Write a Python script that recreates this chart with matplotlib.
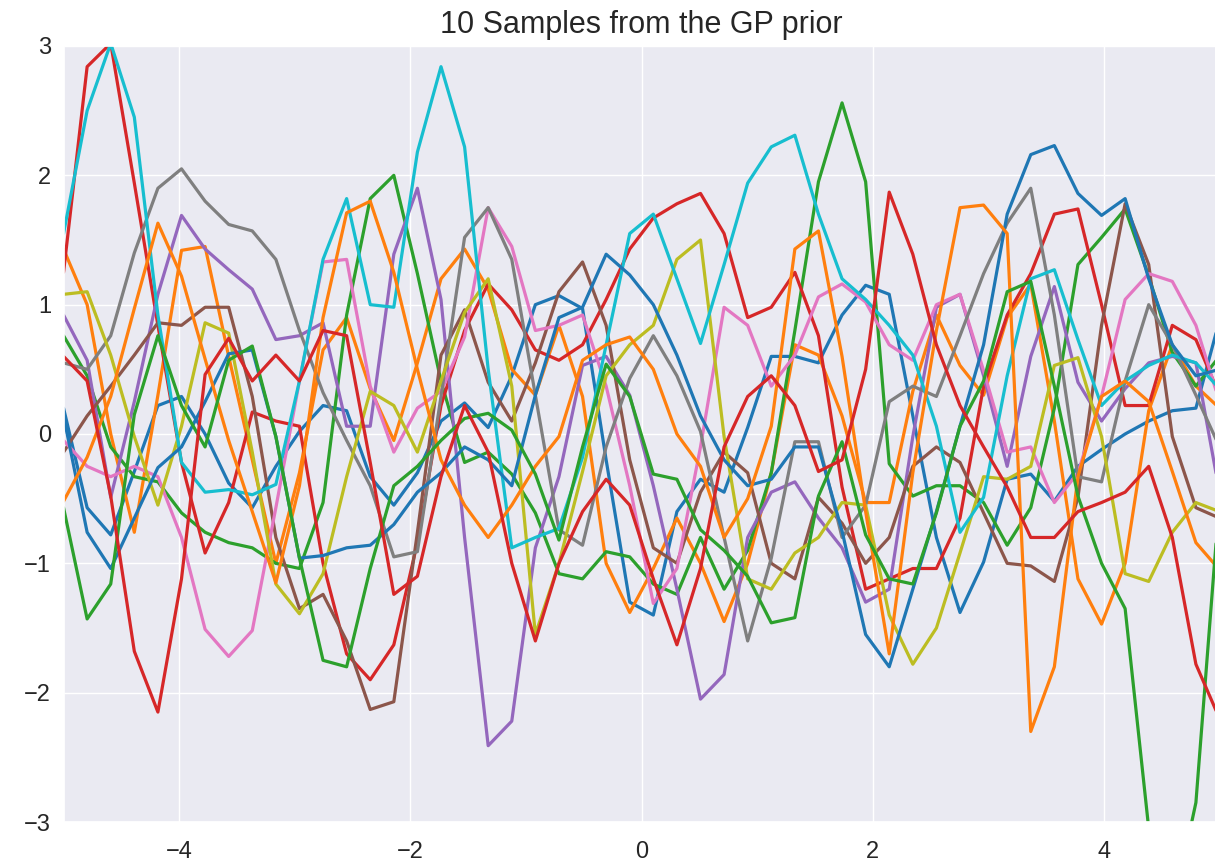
import numpy as np
import matplotlib
matplotlib.use("Agg")
import matplotlib.pyplot as plt
import seaborn as sns

# test points of the prior, 50 evenly spaced inputs
x_min, x_max, n_points = -5, 5, 50

# samples, one list per line (tab10 colour order)
blue_1 = [0.2, -0.57, -0.78, -0.29, 0.22, 0.29, 0.0, -0.38, -0.57, -0.25,
          0.02, 0.22, 0.18, -0.33, -0.55, -0.3, 0.1, 0.24, 0.05, 0.45,
          1.0, 1.07, 0.97, -0.2, -1.3, -1.4, -0.6, -0.35, -0.45, 0.05,
          0.6, 0.6, 0.55, 0.92, 1.15, 1.08, 0.14, -0.8, -1.38, -0.99,
          -0.35, -0.31, -0.52, -0.25, -0.12, 0.0, 0.1, 0.18, 0.2, 0.88]
orange_1 = [1.43, 1.0, 0.0, -0.76, 0.3, 1.42, 1.45, 0.6, -0.2, -1.0,
            -0.3, 0.65, 0.9, 0.35, -0.05, 0.55, 1.2, 1.43, 1.12, 0.5,
            0.3, 0.84, 0.29, -1.0, -1.38, -1.04, -0.65, -1.0, -1.45, -1.0,
            -0.3, 0.69, 0.61, 0.14, -0.53, -0.53, 0.33, 0.92, 0.53, 0.3,
            0.9, 1.16, 0.1, -1.12, -1.47, -1.0, 0.18, 0.69, 0.37, 0.2]
green_1 = [0.76, 0.45, -0.1, -0.33, -0.37, -0.61, -0.76, -0.84, -0.88, -1.0,
           -1.04, -0.53, 0.92, 1.82, 2.0, 1.24, 0.41, -0.22, -0.14, -0.31,
           -0.61, -1.08, -1.12, -0.91, -0.95, -1.16, -1.24, -0.8, -1.2, -0.9,
           -0.3, 0.8, 1.95, 2.56, 1.95, -0.23, -0.48, -0.4, -0.4, -0.53,
           -0.86, -0.57, 0.2, 1.31, 1.52, 1.74, 1.22, 0.63, 0.37, 0.6]
red_1 = [1.25, 2.84, 3.02, 1.94, 0.84, -0.22, -0.92, -0.53, 0.17, 0.1,
         0.06, -1.0, -1.7, -1.9, -1.63, -0.84, 0.22, 0.8, 1.16, 0.96,
         0.65, 0.57, 0.69, 1.04, 1.43, 1.67, 1.78, 1.86, 1.55, 0.9,
         0.98, 1.25, 0.76, -0.41, -1.2, -1.12, -1.04, -1.04, -0.65, 0.37,
         0.92, 1.24, 1.7, 1.74, 1.0, 0.22, 0.22, 0.84, 0.73, 0.3]
purple = [0.92, 0.57, -0.49, 0.25, 1.08, 1.69, 1.43, 1.27, 1.12, 0.73,
          0.76, 0.86, 0.06, 0.06, 1.39, 1.9, 1.04, -0.8, -2.41, -2.22,
          -0.88, -0.33, 0.53, 0.6, 0.3, -0.4, -1.2, -2.05, -1.86, -0.8,
          -0.45, -0.37, -0.65, -0.88, -1.3, -1.2, -0.02, 0.98, 1.08, 0.45,
          -0.25, 0.6, 1.14, 0.4, 0.1, 0.35, 0.55, 0.6, 0.55, -0.45]
brown = [-0.14, 0.14, 0.37, 0.61, 0.86, 0.84, 0.98, 0.98, 0.29, -0.8,
         -1.35, -1.24, -1.6, -2.13, -2.07, -0.76, 0.61, 0.96, 0.4, 0.1,
         0.55, 1.1, 1.33, 0.84, -0.2, -0.88, -1.0, -0.45, -0.14, -0.3,
         -1.0, -1.12, -0.49, -0.69, -1.0, -0.8, -0.25, -0.1, -0.22, -0.61,
         -1.0, -1.02, -1.14, -0.49, 0.84, 1.78, 1.31, -0.02, -0.57, -0.65]
pink = [-0.05, -0.25, -0.33, -0.25, -0.33, -0.8, -1.51, -1.72, -1.52, -0.57,
        0.41, 1.33, 1.35, 0.37, -0.14, 0.2, 0.33, 0.75, 1.75, 1.45,
        0.8, 0.84, 0.92, 0.37, -0.4, -1.31, -1.04, -0.1, 0.98, 0.84,
        0.37, 0.61, 1.06, 1.16, 1.02, 0.69, 0.57, 1.0, 1.08, 0.49,
        -0.14, -0.1, -0.53, -0.3, 0.29, 1.04, 1.24, 1.18, 0.84, 0.25]
grey = [0.55, 0.5, 0.76, 1.4, 1.9, 2.05, 1.8, 1.62, 1.57, 1.35,
        0.8, 0.32, -0.05, -0.4, -0.95, -0.91, 0.29, 1.52, 1.75, 1.35,
        0.3, -0.74, -0.86, -0.1, 0.43, 0.76, 0.45, 0.02, -0.8, -1.6,
        -0.96, -0.06, -0.06, -0.8, -0.55, 0.25, 0.37, 0.29, 0.76, 1.24,
        1.63, 1.9, 0.92, -0.33, -0.37, 0.41, 1.0, 0.69, 0.3, -0.1]
olive = [1.08, 1.1, 0.61, -0.02, -0.55, 0.06, 0.86, 0.78, -0.14, -1.16,
         -1.39, -1.08, -0.33, 0.33, 0.22, -0.14, 0.41, 0.94, 1.2, 0.37,
         -1.55, -1.0, -0.29, 0.45, 0.69, 0.84, 1.35, 1.5, -0.02, -1.12,
         -1.2, -0.92, -0.8, -0.53, -0.55, -1.4, -1.78, -1.5, -0.92, -0.33,
         -0.35, -0.25, 0.53, 0.59, -0.02, -1.08, -1.14, -0.76, -0.53, -0.6]
cyan = [1.55, 2.5, 3.02, 2.45, 0.92, -0.22, -0.45, -0.43, -0.47, -0.39,
        0.41, 1.35, 1.82, 1.0, 0.98, 2.18, 2.84, 2.22, 0.5, -0.88,
        -0.8, -0.73, -0.18, 0.69, 1.55, 1.7, 1.2, 0.7, 1.31, 1.94,
        2.22, 2.31, 1.7, 1.2, 1.04, 0.84, 0.61, 0.06, -0.76, -0.49,
        0.45, 1.2, 1.27, 0.73, 0.22, 0.41, 0.53, 0.61, 0.55, 0.35]
blue_2 = [0.14, -0.76, -1.04, -0.65, -0.26, -0.1, 0.25, 0.62, 0.65, -0.02,
          -0.96, -0.94, -0.88, -0.86, -0.7, -0.45, -0.3, -0.1, -0.2, -0.4,
          0.3, 0.9, 0.98, 1.39, 1.23, 1.0, 0.61, 0.14, -0.2, -0.4,
          -0.35, -0.1, -0.1, -0.75, -1.55, -1.8, -1.2, -0.6, 0.06, 0.69,
          1.7, 2.16, 2.23, 1.86, 1.69, 1.82, 1.2, 0.69, 0.45, 0.5]
orange_2 = [-0.52, -0.18, 0.29, 0.97, 1.63, 1.22, 0.58, -0.05, -0.6, -1.15,
            -0.4, 0.9, 1.71, 1.8, 1.25, 0.5, -0.2, -0.55, -0.8, -0.55,
            -0.25, -0.02, 0.57, 0.69, 0.75, 0.5, 0.0, -0.25, -0.8, -0.5,
            0.06, 1.43, 1.57, 0.6, -0.6, -1.7, -0.3, 0.8, 1.75, 1.77,
            1.55, -2.3, -1.8, -0.33, 0.29, 0.41, 0.25, -0.29, -0.84, -1.05]
green_2 = [-0.57, -1.43, -1.16, 0.15, 0.76, 0.22, -0.1, 0.57, 0.68, -0.02,
           -0.96, -1.75, -1.8, -1.04, -0.4, -0.25, -0.05, 0.12, 0.16, 0.03,
           -0.31, -0.82, -0.1, 0.54, 0.29, -0.31, -0.35, -0.74, -0.9, -1.1,
           -1.46, -1.42, -0.48, -0.06, -0.78, -1.12, -1.16, -0.61, 0.06, 0.41,
           1.1, 1.18, 0.37, -0.48, -1.0, -1.35, -3.05, -3.7, -2.85, -0.5]
red_2 = [0.6, 0.41, -0.48, -1.68, -2.15, -1.12, 0.46, 0.74, 0.41, 0.61,
         0.41, 0.8, 0.76, -0.22, -1.24, -1.1, -0.33, 0.22, -0.14, -1.0,
         -1.6, -1.0, -0.6, -0.35, -0.55, -1.12, -1.63, -1.04, -0.1, 0.29,
         0.45, 0.22, -0.29, -0.2, 0.5, 1.87, 1.39, 0.69, 0.22, -0.1,
         -0.41, -0.8, -0.8, -0.6, -0.53, -0.45, -0.25, -0.8, -1.78, -2.2]

samples = [blue_1, orange_1, green_1, red_1, purple, brown, pink, grey,
           olive, cyan, blue_2, orange_2, green_2, red_2]

sns.set_theme(style="darkgrid")
plt.rcParams['font.family'] = ['Liberation Sans', 'DejaVu Sans']
# matplotlib's default tab10 cycle rather than seaborn's "deep" palette
plt.rcParams['axes.prop_cycle'] = plt.cycler(color=plt.get_cmap('tab10').colors)

x_test = np.linspace(x_min, x_max, n_points)
f_prior = np.array(samples).T

fig = plt.figure(figsize=(12.15, 8.66), dpi=100)
ax = fig.add_axes([0.0523, 0.0508, 0.9514, 0.8961])
ax.plot(x_test, f_prior, linewidth=2.3)
ax.set_xlim(-5, 5)
ax.set_ylim(-3, 3)
ax.set_xticks([-4, -2, 0, 2, 4])
ax.set_yticks([-3, -2, -1, 0, 1, 2, 3])
ax.tick_params(axis='x', labelsize=17, pad=8)
ax.tick_params(axis='y', labelsize=17, pad=3)
ax.set_title("10 Samples from the GP prior", fontsize=22, pad=9)

fig.savefig("out.png", dpi=100)
